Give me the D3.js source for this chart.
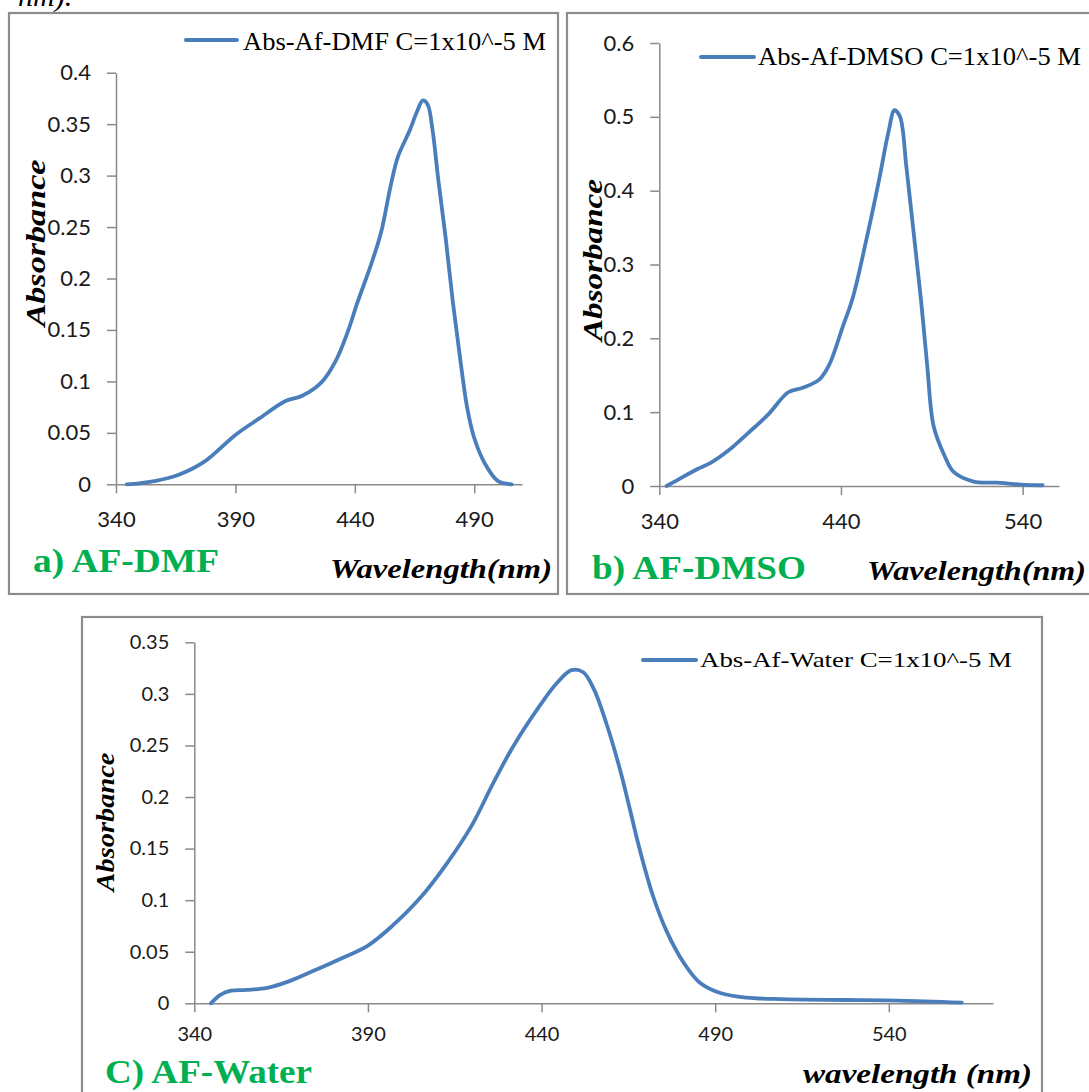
<!DOCTYPE html>
<html>
<head>
<meta charset="utf-8">
<script src="https://cdn.jsdelivr.net/npm/d3@7"></script>
<style>
  body { margin: 0; background: #fff; }
  svg { display: block; }
</style>
</head>
<body>
<div id="chart"></div>
<script>
// Absorbance spectra (wavelength in nm, absorbance)
const dmfWavelength = [344.5, 350, 356, 366, 377, 390, 400, 411, 418, 426, 432, 437, 441, 447, 451, 455, 458, 463, 466, 468.5, 470.5, 472.5, 475, 478, 481, 484, 487, 490, 494.5, 500, 505.7];
const dmfAbsorbance = [0, 0.001, 0.003, 0.009, 0.022, 0.048, 0.064, 0.081, 0.086, 0.099, 0.12, 0.148, 0.176, 0.215, 0.245, 0.29, 0.318, 0.344, 0.362, 0.373, 0.369, 0.345, 0.295, 0.24, 0.178, 0.124, 0.075, 0.045, 0.02, 0.003, 0];

const dmsoWavelength = [344, 350, 361, 368, 378, 389, 400, 411, 419, 428, 433.5, 441, 446.5, 454, 461, 466, 469.5, 472.5, 476, 480, 484, 487.5, 491, 497, 502, 513, 526, 539, 551];
const dmsoAbsorbance = [0, 0.008, 0.023, 0.031, 0.048, 0.072, 0.097, 0.127, 0.133, 0.144, 0.164, 0.216, 0.255, 0.334, 0.415, 0.478, 0.509, 0.5, 0.432, 0.343, 0.253, 0.162, 0.081, 0.041, 0.019, 0.006, 0.0045, 0.002, 0.001];

const waterWavelength = [344.8, 347.4, 350.3, 355, 361, 367, 374, 382, 390, 397, 405, 412.6, 420, 426, 432, 440, 444.3, 448.6, 452, 455, 458.6, 462.4, 465.3, 468.2, 472, 476, 480.8, 485.6, 491.5, 499, 509, 528, 543, 561];
const waterAbsorbance = [0, 0.008, 0.012, 0.013, 0.015, 0.021, 0.031, 0.043, 0.056, 0.075, 0.102, 0.135, 0.173, 0.213, 0.25, 0.291, 0.31, 0.323, 0.321, 0.305, 0.272, 0.229, 0.19, 0.15, 0.105, 0.07, 0.04, 0.02, 0.01, 0.0055, 0.004, 0.0032, 0.0026, 0.0006];

// Axis ticks
const dmfXTicks = [340, 390, 440, 490];
const dmfYTicks = [0, 0.05, 0.1, 0.15, 0.2, 0.25, 0.3, 0.35, 0.4];
const dmsoXTicks = [340, 440, 540];
const dmsoYTicks = [0, 0.1, 0.2, 0.3, 0.4, 0.5, 0.6];
const waterXTicks = [340, 390, 440, 490, 540];
const waterYTicks = [0, 0.05, 0.1, 0.15, 0.2, 0.25, 0.3, 0.35];

const width = 1089;
const height = 1092;
const blue = "#4a7ebb";
const axisGrey = "#8a8a8a";
const green = "#00b050";
const serif = "'Liberation Serif', 'Times New Roman', serif";
const sans = "Lato, 'Open Sans', sans-serif";

const svg = d3.select("#chart").append("svg")
    .attr("width", width)
    .attr("height", height)
    .style("background", "#fff");

// caption fragment cut off at the top of the figure
svg.append("text")
    .attr("x", 18).attr("y", 6)
    .style("font", `italic 30px ${serif}`)
    .text("nm).");

const fmt = d => String(+d.toFixed(2));

function drawPanel(p) {
    // frame
    svg.append("rect")
        .attr("x", p.box[0]).attr("y", p.box[1])
        .attr("width", p.box[2]).attr("height", p.box[3])
        .attr("fill", "none")
        .attr("stroke", "#8c8c8c")
        .attr("stroke-width", 2.2);

    const x = d3.scaleLinear().domain(p.xDomain).range(p.xRange);
    const y = d3.scaleLinear().domain(p.yDomain).range(p.yRange);

    const gx = svg.append("g")
        .attr("transform", `translate(0,${p.yRange[0]})`)
        .call(d3.axisBottom(x).tickValues(p.xTicks).tickFormat(d => d)
            .tickSize(9).tickSizeOuter(0).tickPadding(p.xPad));
    const gy = svg.append("g")
        .attr("transform", `translate(${p.xRange[0]},0)`)
        .call(d3.axisLeft(y).tickValues(p.yTicks).tickFormat(fmt)
            .tickSize(9).tickSizeOuter(0).tickPadding(16));

    [gx, gy].forEach(g => {
        g.select(".domain").attr("stroke", axisGrey).attr("stroke-width", 1.5);
        g.selectAll(".tick line").attr("stroke", axisGrey).attr("stroke-width", 1.5);
        g.selectAll(".tick text")
            .attr("fill", "#1a1a1a")
            .style("font-family", sans)
            .style("font-size", p.tickFont + "px");
    });

    const line = d3.line()
        .x((d, i) => x(p.wl[i]))
        .y(d => y(d))
        .curve(d3.curveCatmullRom.alpha(0.5));

    svg.append("path")
        .datum(p.abs)
        .attr("d", line)
        .attr("fill", "none")
        .attr("stroke", blue)
        .attr("stroke-width", 3.8)
        .attr("stroke-linejoin", "round")
        .attr("stroke-linecap", "round");

    // legend
    svg.append("line")
        .attr("x1", p.legend.x1).attr("x2", p.legend.x2)
        .attr("y1", p.legend.y).attr("y2", p.legend.y)
        .attr("stroke", blue).attr("stroke-width", 4)
        .attr("stroke-linecap", "round");
    svg.append("text")
        .attr("x", p.legend.tx).attr("y", p.legend.ty)
        .attr("textLength", p.legend.len)
        .attr("lengthAdjust", "spacingAndGlyphs")
        .style("font", `${p.legend.size}px ${serif}`)
        .text(p.legend.text);

    // y title
    svg.append("text")
        .attr("transform", `translate(${p.yTitle.x},${p.yTitle.y}) rotate(-90)`)
        .attr("text-anchor", "middle")
        .attr("textLength", p.yTitle.len)
        .attr("lengthAdjust", "spacingAndGlyphs")
        .style("font", `italic bold ${p.yTitle.size}px ${serif}`)
        .text("Absorbance");

    // x title
    svg.append("text")
        .attr("x", p.xTitle.x).attr("y", p.xTitle.y)
        .attr("textLength", p.xTitle.len)
        .attr("lengthAdjust", "spacingAndGlyphs")
        .style("font", `italic bold 27px ${serif}`)
        .text(p.xTitle.text);

    // panel label
    svg.append("text")
        .attr("x", p.tag.x).attr("y", p.tag.y)
        .attr("textLength", p.tag.len)
        .attr("lengthAdjust", "spacingAndGlyphs")
        .attr("fill", green)
        .style("font", `bold 33px ${serif}`)
        .text(p.tag.text);
}

drawPanel({
    box: [9, 13, 549, 581],
    xDomain: [340, 510], xRange: [116, 522],
    yDomain: [0, 0.4], yRange: [484.3, 72.7],
    xTicks: dmfXTicks, yTicks: dmfYTicks, xPad: 18, tickFont: 22,
    wl: dmfWavelength, abs: dmfAbsorbance,
    legend: { x1: 186, x2: 237, y: 40, tx: 243, ty: 50, len: 303, size: 25, text: "Abs-Af-DMF C=1x10^-5 M" },
    yTitle: { x: 45, y: 243, len: 167, size: 28 },
    xTitle: { x: 330, y: 578, len: 222, text: "Wavelength(nm)" },
    tag: { x: 33, y: 572, len: 186, text: "a) AF-DMF" }
});

drawPanel({
    box: [567, 13, 540, 581],
    xDomain: [340, 560], xRange: [659.3, 1059],
    yDomain: [0, 0.6], yRange: [486, 43],
    xTicks: dmsoXTicks, yTicks: dmsoYTicks, xPad: 18, tickFont: 22,
    wl: dmsoWavelength, abs: dmsoAbsorbance,
    legend: { x1: 701, x2: 754, y: 57, tx: 758, ty: 65, len: 323, size: 26, text: "Abs-Af-DMSO C=1x10^-5 M" },
    yTitle: { x: 602, y: 260, len: 162, size: 28 },
    xTitle: { x: 867, y: 580, len: 219, text: "Wavelength(nm)" },
    tag: { x: 592, y: 579, len: 214, text: "b) AF-DMSO" }
});

drawPanel({
    box: [82, 617, 960, 500],
    xDomain: [340, 570], xRange: [194.3, 993],
    yDomain: [0, 0.35], yRange: [1003.3, 642.3],
    xTicks: waterXTicks, yTicks: waterYTicks, xPad: 15, tickFont: 20,
    wl: waterWavelength, abs: waterAbsorbance,
    legend: { x1: 643, x2: 696, y: 660, tx: 700, ty: 667, len: 312, size: 21, text: "Abs-Af-Water C=1x10^-5 M" },
    yTitle: { x: 114, y: 822, len: 139, size: 26 },
    xTitle: { x: 803, y: 1083, len: 229, text: "wavelength (nm)" },
    tag: { x: 105, y: 1083, len: 207, text: "C) AF-Water" }
});
</script>
</body>
</html>
